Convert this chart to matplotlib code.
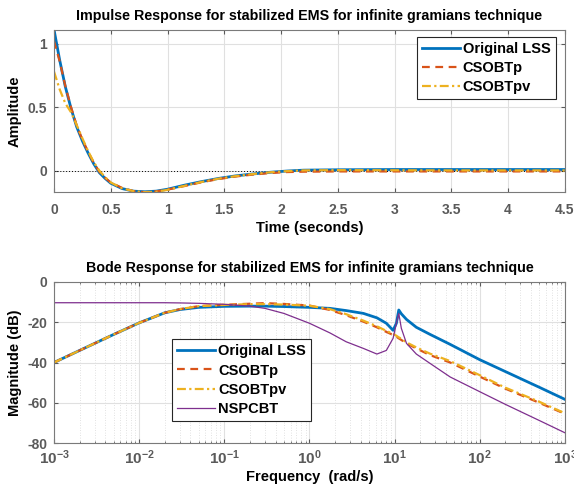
import matplotlib
matplotlib.use('Agg')
import matplotlib.pyplot as plt
from matplotlib.ticker import FormatStrFormatter, LogLocator, NullFormatter

plt.rcParams['font.family'] = ['Liberation Sans', 'DejaVu Sans']
plt.rcParams['font.weight'] = 'bold'
plt.rcParams['axes.unicode_minus'] = False
plt.rcParams['mathtext.fontset'] = 'custom'
plt.rcParams['mathtext.bf'] = 'Liberation Sans:bold'
plt.rcParams['mathtext.rm'] = 'Liberation Sans:bold'

# impulse response
t = [0, 0.05, 0.1, 0.15, 0.2, 0.25, 0.3, 0.35, 0.4, 0.45, 0.5, 0.6, 0.7, 0.8, 0.9, 1.0,
     1.15, 1.3, 1.45, 1.6, 1.75, 1.9, 2.05, 2.2, 2.5, 3.0, 3.5, 4.0, 4.5]
imp_orig = [1.11, 0.87, 0.66, 0.49, 0.345, 0.235, 0.14, 0.055, -0.015, -0.06, -0.098, -0.14, -0.16,
            -0.165, -0.16, -0.145, -0.113, -0.085, -0.06, -0.04, -0.025, -0.012, -0.002, 0.005,
            0.008, 0.01, 0.01, 0.01, 0.01]
imp_p = [1.02, 0.86, 0.665, 0.5, 0.355, 0.245, 0.15, 0.062, -0.008, -0.055, -0.092, -0.135, -0.16,
         -0.168, -0.162, -0.148, -0.12, -0.09, -0.065, -0.045, -0.03, -0.018, -0.01, -0.007,
         -0.005, -0.005, -0.005, -0.005, -0.005]
imp_pv = [0.78, 0.64, 0.53, 0.46, 0.36, 0.255, 0.155, 0.068, 0.0, -0.05, -0.092, -0.138, -0.16,
          -0.168, -0.165, -0.15, -0.118, -0.088, -0.062, -0.042, -0.026, -0.012, -0.003, 0.003,
          0.005, 0.004, 0.003, 0.003, 0.003]

# bode magnitude (dB)
freq = [0.001, 0.002, 0.005, 0.01, 0.02, 0.03, 0.05, 0.1, 0.2, 0.3, 0.5, 1, 1.74, 2.7, 4.3,
        6.2, 8, 9.6, 10.5, 11.2, 12, 13.8, 18, 26, 45, 100, 200, 500, 1000]
mag_orig = [-40, -34, -26.1, -20.3, -15.3, -13.7, -12.6, -12.1, -12.0, -12.0, -12.2, -12.6, -13.1,
            -14.2, -15.6, -17.8, -20.5, -24.0, -20.5, -13.9, -15.8, -18.6, -22.5, -26.0, -31.0,
            -38.6, -44.5, -52.3, -58.3]
mag_p = [-40, -34, -26.1, -20.3, -15.3, -13.5, -12.0, -11.3, -10.8, -10.5, -10.9, -11.7, -13.9,
         -16.5, -19.7, -22.5, -24.8, -26.3, -27.2, -28.0, -28.8, -30.5, -33.0, -36.3, -40.0,
         -47.0, -53.0, -60.0, -65.5]
mag_pv = [-40, -34, -26.1, -20.3, -15.3, -13.5, -12.0, -11.4, -11.0, -11.0, -11.2, -11.8, -13.5,
          -16.0, -19.2, -22.0, -24.3, -25.8, -26.7, -27.5, -28.2, -30.0, -32.5, -35.6, -39.3,
          -46.3, -52.5, -59.5, -65.2]
mag_nsp = [-10.3, -10.3, -10.3, -10.3, -10.3, -10.4, -10.6, -11.1, -12.0, -13.1, -15.6, -20.5,
           -25.3, -29.7, -33.0, -35.8, -34.0, -28.0, -20.5, -15.6, -23.0, -30.5, -35.8, -40.4,
           -47.2, -54.5, -60.8, -68.8, -74.9]

c_blue = '#0072BD'
c_red = '#D95319'
c_yel = '#EDB120'
c_pur = '#7E2F8E'
tick_c = '#5a5a5a'

fig = plt.figure(figsize=(5.74, 4.93), dpi=100)
ax1 = fig.add_axes([0.0941, 0.6105, 0.890, 0.3286])
ax2 = fig.add_axes([0.0941, 0.1014, 0.890, 0.3266])

for ax in (ax1, ax2):
    ax.tick_params(direction='in', which='both', top=True, right=True, colors=tick_c,
                   labelsize=10, length=3)
    ax.tick_params(axis='x', pad=8)
    ax.tick_params(axis='y', pad=5)
    ax.tick_params(which='minor', length=1.5)
    for s in ax.spines.values():
        s.set_color('#7a7a7a')
        s.set_linewidth(0.8)

# top: impulse
ax1.axhline(0, color='k', ls=(0, (1, 2)), lw=0.7)
ax1.plot(t, imp_orig, color=c_blue, lw=2, label='Original LSS')
ax1.plot(t, imp_p, color=c_red, lw=1.6, ls=(0, (3.5, 2.5)), label='CSOBTp')
ax1.plot(t, imp_pv, color=c_yel, lw=1.6, ls=(0, (4, 1.5, 1, 1.5)), label='CSOBTpv')
ax1.set_xlim(0, 4.5)
ax1.set_ylim(-0.167, 1.107)
ax1.set_xticks([0, 0.5, 1, 1.5, 2, 2.5, 3, 3.5, 4, 4.5])
ax1.set_yticks([0, 0.5, 1])
ax1.xaxis.set_major_formatter(FormatStrFormatter('%g'))
ax1.yaxis.set_major_formatter(FormatStrFormatter('%g'))
ax1.grid(True, color='#e0e0e0', lw=0.8)
ax1.set_axisbelow(True)
ax1.set_title('Impulse Response for stabilized EMS for infinite gramians technique',
              fontsize=10.3, fontweight='bold', pad=7)
ax1.set_xlabel('Time (seconds)', fontsize=10.5, fontweight='bold', labelpad=3)
ax1.set_ylabel('Amplitude', fontsize=10.5, fontweight='bold', labelpad=4)
leg1 = ax1.legend(loc='upper right', bbox_to_anchor=(0.982, 0.959), fontsize=10.5,
                  handlelength=2.6, handletextpad=0.2, borderpad=0.35, labelspacing=0.35,
                  fancybox=False, framealpha=1, borderaxespad=0)
leg1.get_frame().set_edgecolor('#262626')
leg1.get_frame().set_linewidth(0.8)

# bottom: bode
ax2.semilogx(freq, mag_orig, color=c_blue, lw=2, label='Original LSS')
ax2.semilogx(freq, mag_p, color=c_red, lw=1.6, ls=(0, (3.5, 2.5)), label='CSOBTp')
ax2.semilogx(freq, mag_pv, color=c_yel, lw=1.6, ls=(0, (4, 1.5, 1, 1.5)), label='CSOBTpv')
ax2.semilogx(freq, mag_nsp, color=c_pur, lw=0.9, label='NSPCBT')
ax2.set_xlim(1e-3, 1e3)
ax2.set_ylim(-80, 0)
ax2.set_yticks([0, -20, -40, -60, -80])
ax2.set_xticks([1e-3, 1e-2, 1e-1, 1e0, 1e1, 1e2, 1e3])
ax2.set_xticklabels([r'$\mathbf{10^{-3}}$', r'$\mathbf{10^{-2}}$', r'$\mathbf{10^{-1}}$',
                     r'$\mathbf{10^{0}}$', r'$\mathbf{10^{1}}$', r'$\mathbf{10^{2}}$',
                     r'$\mathbf{10^{3}}$'])
ax2.tick_params(axis='x', pad=4, labelsize=11)
ax2.xaxis.set_minor_locator(LogLocator(base=10, subs=range(2, 10), numticks=20))
ax2.xaxis.set_minor_formatter(NullFormatter())
ax2.grid(True, which='major', color='#e0e0e0', lw=0.8)
ax2.grid(True, which='minor', axis='x', color='#d8d8d8', lw=0.6, ls=(0, (1, 2)))
ax2.set_axisbelow(True)
ax2.set_title('Bode Response for stabilized EMS for infinite gramians technique',
              fontsize=10.3, fontweight='bold', pad=7)
ax2.set_xlabel('Frequency  (rad/s)', fontsize=10.5, fontweight='bold', labelpad=2)
ax2.set_ylabel('Magnitude (dB)', fontsize=10.5, fontweight='bold', labelpad=4)
leg2 = ax2.legend(loc='upper left', bbox_to_anchor=(0.2315, 0.644), fontsize=10.5,
                  handlelength=2.6, handletextpad=0.2, borderpad=0.35, labelspacing=0.35,
                  fancybox=False, framealpha=1, borderaxespad=0)
leg2.get_frame().set_edgecolor('#262626')
leg2.get_frame().set_linewidth(0.8)

fig.savefig('out.png', dpi=100)
